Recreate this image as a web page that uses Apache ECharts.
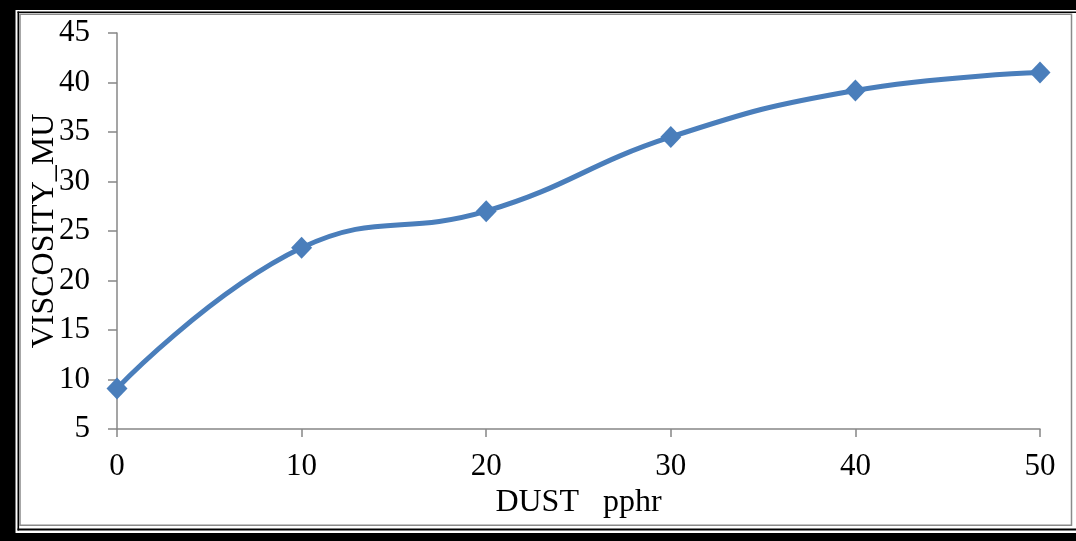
<!DOCTYPE html>
<html>
<head>
<meta charset="utf-8">
<script src="https://cdn.jsdelivr.net/npm/echarts@6/dist/echarts.min.js"></script>
<style>
  html, body { margin: 0; padding: 0; background: #ffffff; }
  #chart { width: 1076px; height: 541px; }
</style>
</head>
<body>
<div id="chart"></div>
<script>
// Dust loading (pphr) against measured viscosity (MU)
const dustPphr = [0, 10, 20, 30, 40, 50];
const viscosityMu = [9.1, 23.3, 27.0, 34.5, 39.2, 41.0];
const yTicks = { min: 5, max: 45, step: 5 };
const xTicks = { min: 0, max: 50, step: 10 };

const FONT = 'Liberation Serif';
const AXIS_GREY = '#878787';
const LINE_BLUE = '#4A7EBB';

const chart = echarts.init(document.getElementById('chart'), null, { renderer: 'canvas' });

chart.setOption({
  backgroundColor: '#ffffff',
  animation: false,
  textStyle: { fontFamily: FONT, color: '#000000' },
  grid: { left: 117, right: 36, top: 33, bottom: 112, containLabel: false },
  xAxis: {
    type: 'value',
    min: xTicks.min,
    max: xTicks.max,
    interval: xTicks.step,
    name: 'DUST   pphr',
    nameLocation: 'middle',
    nameGap: 58,
    nameMoveOverlap: false,
    nameTextStyle: { fontFamily: FONT, fontSize: 32, color: '#000000' },
    axisLine: { show: true, onZero: false, lineStyle: { color: AXIS_GREY, width: 1.5 } },
    axisTick: { show: true, inside: false, length: 8, lineStyle: { color: AXIS_GREY, width: 1.5 } },
    axisLabel: { margin: 22, fontFamily: FONT, fontSize: 31, color: '#000000' },
    splitLine: { show: false }
  },
  yAxis: {
    type: 'value',
    min: yTicks.min,
    max: yTicks.max,
    interval: yTicks.step,
    name: 'VISCOSITY_MU',
    nameLocation: 'middle',
    nameRotate: 90,
    nameGap: 56,
    nameMoveOverlap: false,
    nameTextStyle: { fontFamily: FONT, fontSize: 32, color: '#000000' },
    axisLine: { show: true, onZero: false, lineStyle: { color: AXIS_GREY, width: 1.5 } },
    axisTick: { show: true, inside: false, length: 9, lineStyle: { color: AXIS_GREY, width: 1.5 } },
    axisLabel: { margin: 27, fontFamily: FONT, fontSize: 31, color: '#000000' },
    splitLine: { show: false }
  },
  series: [{
    type: 'line',
    data: dustPphr.map((d, i) => [d, viscosityMu[i]]),
    smooth: 0.45,
    symbol: 'diamond',
    symbolSize: [21, 22],
    showAllSymbol: true,
    lineStyle: { color: LINE_BLUE, width: 5 },
    itemStyle: { color: LINE_BLUE, borderWidth: 0 },
    z: 3
  }],
  graphic: [
    // heavy outer frame
    { type: 'rect', shape: { x: 0, y: 0, width: 15.5, height: 541 }, style: { fill: '#000000' }, silent: true },
    { type: 'rect', shape: { x: 0, y: 0, width: 1076, height: 10 }, style: { fill: '#000000' }, silent: true },
    { type: 'rect', shape: { x: 0, y: 533, width: 1076, height: 8 }, style: { fill: '#000000' }, silent: true },
    // thin inner rule
    { type: 'rect', shape: { x: 17.5, y: 11.5, width: 1.6, height: 519 }, style: { fill: '#000000' }, silent: true },
    { type: 'rect', shape: { x: 17.5, y: 11.5, width: 1058.5, height: 1.6 }, style: { fill: '#000000' }, silent: true },
    { type: 'rect', shape: { x: 17.5, y: 528.6, width: 1058.5, height: 2 }, style: { fill: '#000000' }, silent: true },
    // chart area border
    { type: 'rect', shape: { x: 20, y: 14.3, width: 1051.5, height: 511 }, style: { fill: null, stroke: '#8a8a8a', lineWidth: 1.5 }, silent: true }
  ]
});
</script>
</body>
</html>
